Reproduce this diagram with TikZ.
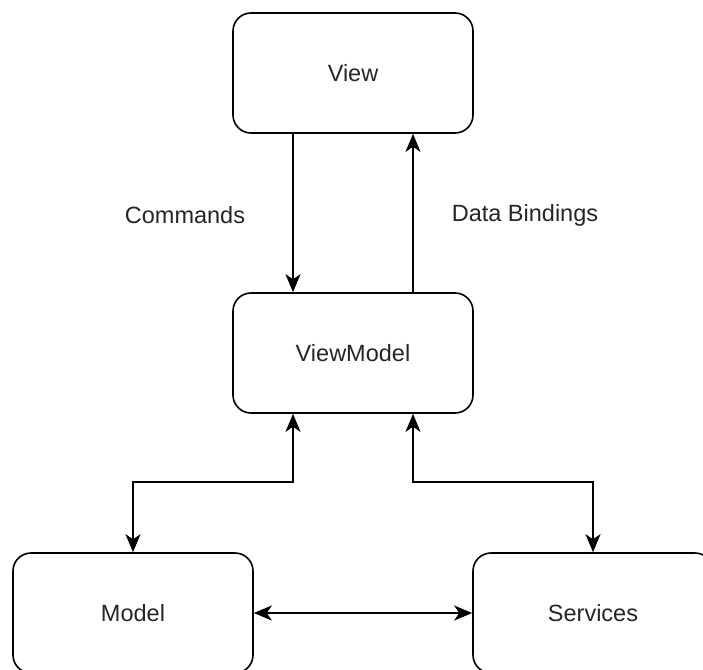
\documentclass[tikz,border=0pt]{standalone}
\usepackage{fontspec}
\setmainfont{Liberation Sans}
\usetikzlibrary{arrows.meta}
\begin{document}
\begin{tikzpicture}[x=1pt,y=-1pt,
  box/.style={draw, line width=1.6pt, rounded corners=18pt, minimum width=240pt, minimum height=120pt, inner sep=0pt, font=\fontsize{23.5}{28}\selectfont, text=black!85},
  lbl/.style={font=\fontsize{23.5}{28}\selectfont, text=black!85},
  conn/.style={line width=1.6pt, -{Stealth[length=18pt,width=15pt,inset=5pt]}},
  bconn/.style={line width=1.6pt, {Stealth[length=18pt,width=15pt,inset=5pt]}-{Stealth[length=18pt,width=15pt,inset=5pt]}}]
\clip (0,0) rectangle (703,669);
\fill[white] (0,0) rectangle (703,669);
\node[box] (view) at (353,73) {View};
\node[box] (vm) at (353,353) {ViewModel};
\node[box] (model) at (133,613) {Model};
\node[box] (services) at (593,613) {Services};
\draw[conn] ([xshift=-60pt]view.south) -- ([xshift=-60pt]vm.north);
\draw[conn] ([xshift=60pt]vm.north) -- ([xshift=60pt]view.south);
\draw[bconn] (model.north) -- ++(0,-70) -| ([xshift=-60pt]vm.south);
\draw[bconn] (services.north) -- ++(0,-70) -| ([xshift=60pt]vm.south);
\draw[bconn] (model.east) -- (services.west);
\node[lbl] (cmd) at (185,215) {Commands};
\node[lbl] (db) at (525,215) {Data Bindings};
\end{tikzpicture}
\end{document}
